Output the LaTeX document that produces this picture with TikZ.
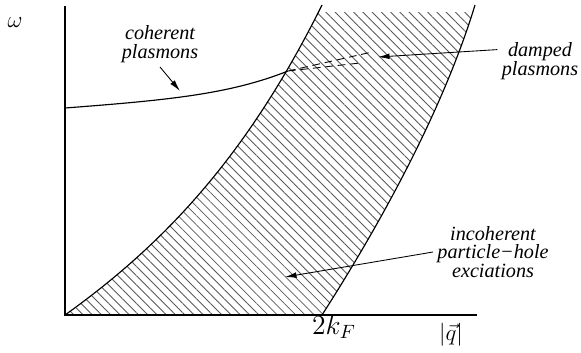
\documentclass[tikz,border=0pt]{standalone}
\usepackage[no-math]{fontspec}
\setmainfont{Liberation Serif}
\usetikzlibrary{arrows.meta,patterns.meta}

\tikzset{
  lbl/.style={font=\fontsize{10.5pt}{9.8pt}\selectfont\itshape, align=center, inner sep=2pt},
  pointer/.style={-{Latex[length=6pt,width=3pt]}, line width=0.45pt},
  hatch/.style={pattern={Lines[angle=-45,distance=3.4pt,line width=0.45pt]}, pattern color=black!65},
}

\begin{document}
\begin{tikzpicture}[x=0.52pt, y=-0.52pt, line width=0.6pt]
    \useasboundingbox (0,0) rectangle (581,352);

    % particle-hole continuum (hatched)
    \begin{scope}
      \clip (0,12) rectangle (581,315);
      \fill[hatch] (65,315) .. controls (170,240) and (250,150) .. (322,5)
        -- (475,5) .. controls (440,120) and (370,240) .. (322,315) -- cycle;
    \end{scope}

    % boundaries of the continuum
    \coordinate (O) at (65,315);
    \coordinate (lowtop) at (322,5);
    \coordinate (kFpt) at (322,315);
    \coordinate (uptop) at (475,5);
    \draw (O) .. controls (170,240) and (250,150) .. (lowtop);
    \draw (kFpt) .. controls (370,240) and (440,120) .. (uptop);

    % axes
    \coordinate (wtop) at (65,6);
    \coordinate (qend) at (477,315);
    \draw (wtop) -- (O) -- (qend);

    % plasmon branch
    \coordinate (w0) at (65,108);
    \coordinate (cross) at (288,71);
    \draw (w0) .. controls (170,100) and (230,94) .. (cross);
    \coordinate (dampA) at (372,52);
    \coordinate (dampB) at (360,63);
    \draw[dash pattern=on 4pt off 2.5pt, line width=0.45pt] (cross) -- (dampA) (cross) -- (dampB);

    % labels with pointers
    \node[lbl] (coh) at (160,44) {coherent\\plasmons};
    \coordinate (cohtip) at (180,91);
    \draw[pointer] (coh.south) -- (cohtip);

    \node[lbl] (damp) at (540,61) {damped\\plasmons};
    \coordinate (damptip) at (378,57);
    \draw[pointer] (damp.165) -- (damptip);

    \node[lbl] (inc) at (493,252) {incoherent\\particle−hole\\exciations};
    \coordinate (inctip) at (285,277);
    \draw[pointer] (inc.west) -- (inctip);

    % axis labels
    \node[font=\large] (omega) at (15,23) {$\omega$};
    \node[font=\Large] (kF) at (334,327) {$2k_F$};
    \node[font=\large] (q) at (451,335) {$|\vec{q}|$};
\end{tikzpicture}
\end{document}
